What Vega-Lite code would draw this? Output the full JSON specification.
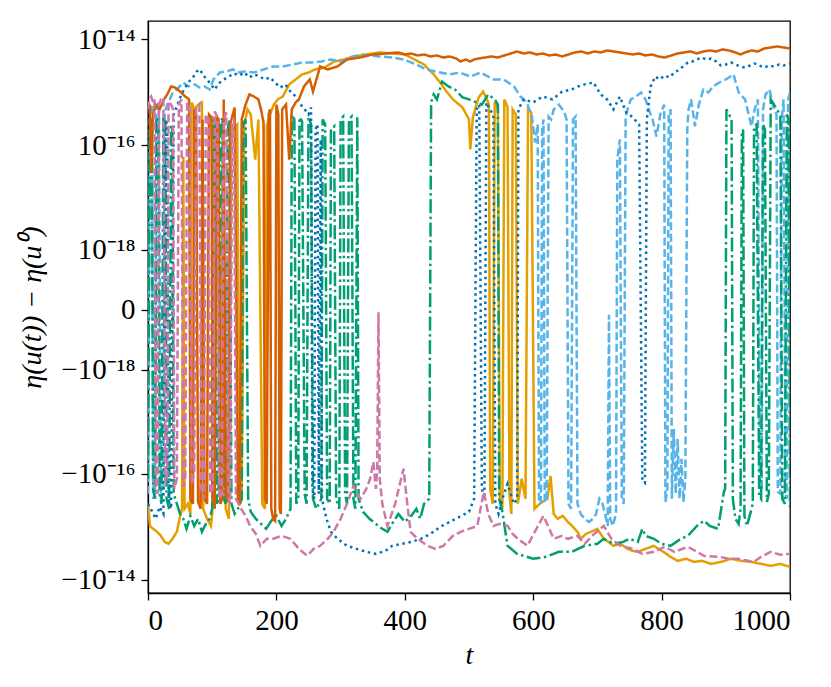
{
  "$schema": "https://vega.github.io/schema/vega-lite/v6.json",
  "width": 642,
  "height": 572,
  "autosize": {"type": "none"},
  "padding": {"left": 148, "top": 21, "right": 41, "bottom": 94},
  "background": "white",
  "datasets": {
    "runs": [
      {"s":"o","t":0,"v":-3.68e-16},{"s":"o","t":3,"v":-9.6e-16},{"s":"o","t":8,"v":-1.09e-15},{"s":"o","t":14,"v":-1.24e-15},{"s":"o","t":20,"v":-1.48e-15},{"s":"o","t":26,"v":-1.92e-15},{"s":"o","t":32,"v":-2.09e-15},{"s":"o","t":38,"v":-1.68e-15},{"s":"o","t":45,"v":-1.24e-15},{"s":"o","t":50,"v":-6.2e-16},{"s":"o","t":53,"v":-4.57e-16},{"s":"o","t":55,"v":6.2e-17},{"s":"o","t":57,"v":-4.57e-16},{"s":"o","t":62,"v":-3.68e-16},{"s":"o","t":66,"v":-5.7e-16},{"s":"o","t":68,"v":6.5e-16},{"s":"o","t":72,"v":4.8e-16},{"s":"o","t":78,"v":5.9e-16},{"s":"o","t":84,"v":6.5e-16},{"s":"o","t":86,"v":-4.57e-16},{"s":"o","t":92,"v":-7.06e-16},{"s":"o","t":98,"v":-9.6e-16},{"s":"o","t":100,"v":-5.7e-16},{"s":"o","t":103,"v":3.1e-16},{"s":"o","t":108,"v":2.5e-16},{"s":"o","t":112,"v":-3.68e-16},{"s":"o","t":117,"v":2.3e-16},{"s":"o","t":121,"v":-4.57e-16},{"s":"o","t":126,"v":-7.06e-16},{"s":"o","t":130,"v":1.6e-16},{"s":"o","t":136,"v":2.3e-16},{"s":"o","t":139,"v":2.5e-16},{"s":"o","t":142,"v":-4.0e-16},{"s":"o","t":146,"v":-2.96e-16},{"s":"o","t":150,"v":2.5e-16},{"s":"o","t":155,"v":4.8e-16},{"s":"o","t":160,"v":3.85e-16},{"s":"o","t":167,"v":5.4e-17},{"s":"o","t":172,"v":3.1e-16},{"s":"o","t":178,"v":-3.68e-16},{"s":"o","t":182,"v":-4.57e-16},{"s":"o","t":185,"v":2.3e-16},{"s":"o","t":190,"v":3.85e-16},{"s":"o","t":196,"v":5.9e-16},{"s":"o","t":202,"v":7.4e-16},{"s":"o","t":210,"v":8.4e-16},{"s":"o","t":220,"v":1.42e-15},{"s":"o","t":230,"v":1.76e-15},{"s":"o","t":240,"v":2.19e-15},{"s":"o","t":250,"v":2.38e-15},{"s":"o","t":260,"v":2.72e-15},{"s":"o","t":275,"v":2.96e-15},{"s":"o","t":290,"v":3.84e-15},{"s":"o","t":305,"v":4.19e-15},{"s":"o","t":320,"v":4.78e-15},{"s":"o","t":340,"v":5.21e-15},{"s":"o","t":360,"v":5.69e-15},{"s":"o","t":380,"v":5.44e-15},{"s":"o","t":400,"v":5.21e-15},{"s":"o","t":415,"v":4.19e-15},{"s":"o","t":430,"v":3.37e-15},{"s":"o","t":445,"v":2.19e-15},{"s":"o","t":455,"v":1.54e-15},{"s":"o","t":465,"v":1.04e-15},{"s":"o","t":475,"v":7.4e-16},{"s":"o","t":490,"v":5.2e-16},{"s":"o","t":500,"v":3.1e-16},{"s":"o","t":502,"v":8.4e-17},{"s":"o","t":506,"v":3.4e-16},{"s":"o","t":515,"v":8.05e-16},{"s":"o","t":522,"v":1.04e-15},{"s":"o","t":528,"v":7.4e-16},{"s":"o","t":531,"v":5.9e-16},{"s":"o","t":533,"v":-1.92e-16},{"s":"o","t":537,"v":-3.68e-16},{"s":"o","t":540,"v":6.5e-16},{"s":"o","t":545,"v":4.8e-16},{"s":"o","t":548,"v":-2.96e-16},{"s":"o","t":552,"v":-4.57e-16},{"s":"o","t":555,"v":7.4e-16},{"s":"o","t":560,"v":5.4e-16},{"s":"o","t":563,"v":-2.38e-16},{"s":"o","t":566,"v":-5.7e-16},{"s":"o","t":568,"v":4.8e-16},{"s":"o","t":573,"v":3.85e-16},{"s":"o","t":576,"v":-3.68e-16},{"s":"o","t":582,"v":-1.24e-16},{"s":"o","t":588,"v":-2.96e-16},{"s":"o","t":592,"v":4.8e-16},{"s":"o","t":597,"v":4.2e-16},{"s":"o","t":602,"v":-4.57e-16},{"s":"o","t":610,"v":-3.68e-16},{"s":"o","t":622,"v":-2.96e-16},{"s":"o","t":627,"v":-1.09e-16},{"s":"o","t":632,"v":-5.7e-16},{"s":"o","t":638,"v":-7.06e-16},{"s":"o","t":646,"v":-6.2e-16},{"s":"o","t":654,"v":-8.05e-16},{"s":"o","t":662,"v":-1.0e-15},{"s":"o","t":669,"v":-1.24e-15},{"s":"o","t":674,"v":-1.68e-15},{"s":"o","t":682,"v":-1.36e-15},{"s":"o","t":690,"v":-1.24e-15},{"s":"o","t":700,"v":-1.09e-15},{"s":"o","t":710,"v":-1.68e-15},{"s":"o","t":717,"v":-1.92e-15},{"s":"o","t":725,"v":-2.28e-15},{"s":"o","t":736,"v":-2.09e-15},{"s":"o","t":747,"v":-2.6e-15},{"s":"o","t":755,"v":-2.84e-15},{"s":"o","t":763,"v":-2.96e-15},{"s":"o","t":775,"v":-2.6e-15},{"s":"o","t":788,"v":-2.28e-15},{"s":"o","t":795,"v":-2.6e-15},{"s":"o","t":803,"v":-2.96e-15},{"s":"o","t":814,"v":-3.68e-15},{"s":"o","t":825,"v":-4.38e-15},{"s":"o","t":838,"v":-4.0e-15},{"s":"o","t":850,"v":-4.57e-15},{"s":"o","t":863,"v":-4.38e-15},{"s":"o","t":877,"v":-5.0e-15},{"s":"o","t":893,"v":-4.57e-15},{"s":"o","t":908,"v":-4.0e-15},{"s":"o","t":924,"v":-4.38e-15},{"s":"o","t":939,"v":-4.57e-15},{"s":"o","t":955,"v":-5.0e-15},{"s":"o","t":970,"v":-5.44e-15},{"s":"o","t":985,"v":-5.0e-15},{"s":"o","t":1000,"v":-5.69e-15},

      {"s":"k","t":0,"v":-2.38e-16},{"s":"k","t":3,"v":4.8e-16},{"s":"k","t":6,"v":5.9e-16},{"s":"k","t":8,"v":-2.96e-16},{"s":"k","t":11,"v":-2.38e-16},{"s":"k","t":13,"v":5.2e-16},{"s":"k","t":17,"v":6.5e-16},{"s":"k","t":20,"v":-2.96e-16},{"s":"k","t":24,"v":-2.19e-16},{"s":"k","t":26,"v":4.2e-16},{"s":"k","t":30,"v":5.9e-16},{"s":"k","t":34,"v":7.4e-16},{"s":"k","t":39,"v":1.04e-15},{"s":"k","t":45,"v":1.14e-15},{"s":"k","t":55,"v":1.54e-15},{"s":"k","t":63,"v":1.3e-15},{"s":"k","t":73,"v":1.42e-15},{"s":"k","t":80,"v":1.24e-15},{"s":"k","t":88,"v":1.3e-15},{"s":"k","t":96,"v":1.14e-15},{"s":"k","t":102,"v":1.76e-15},{"s":"k","t":112,"v":2.38e-15},{"s":"k","t":122,"v":2.49e-15},{"s":"k","t":132,"v":2.72e-15},{"s":"k","t":140,"v":2.38e-15},{"s":"k","t":150,"v":2.49e-15},{"s":"k","t":165,"v":2.38e-15},{"s":"k","t":180,"v":2.72e-15},{"s":"k","t":195,"v":3.09e-15},{"s":"k","t":210,"v":3.09e-15},{"s":"k","t":225,"v":3.37e-15},{"s":"k","t":240,"v":3.68e-15},{"s":"k","t":255,"v":3.68e-15},{"s":"k","t":270,"v":3.84e-15},{"s":"k","t":285,"v":4.19e-15},{"s":"k","t":300,"v":3.84e-15},{"s":"k","t":315,"v":4.57e-15},{"s":"k","t":331,"v":5.21e-15},{"s":"k","t":345,"v":4.99e-15},{"s":"k","t":360,"v":4.78e-15},{"s":"k","t":380,"v":4.57e-15},{"s":"k","t":398,"v":4.19e-15},{"s":"k","t":418,"v":3.37e-15},{"s":"k","t":433,"v":2.72e-15},{"s":"k","t":455,"v":2.38e-15},{"s":"k","t":470,"v":2.19e-15},{"s":"k","t":486,"v":2.38e-15},{"s":"k","t":502,"v":2.0e-15},{"s":"k","t":518,"v":2.38e-15},{"s":"k","t":538,"v":1.76e-15},{"s":"k","t":554,"v":1.76e-15},{"s":"k","t":570,"v":1.3e-15},{"s":"k","t":580,"v":8.4e-16},{"s":"k","t":590,"v":6.5e-16},{"s":"k","t":598,"v":3.5e-16},{"s":"k","t":603,"v":1.14e-16},{"s":"k","t":607,"v":2.5e-16},{"s":"k","t":609,"v":-2.96e-16},{"s":"k","t":612,"v":-3.68e-16},{"s":"k","t":614,"v":2.0e-16},{"s":"k","t":616,"v":3.1e-16},{"s":"k","t":618,"v":-3.4e-16},{"s":"k","t":621,"v":-2.96e-16},{"s":"k","t":624,"v":3.5e-16},{"s":"k","t":628,"v":3.1e-16},{"s":"k","t":632,"v":4.8e-16},{"s":"k","t":640,"v":5.9e-16},{"s":"k","t":648,"v":4.4e-16},{"s":"k","t":652,"v":3.1e-16},{"s":"k","t":655,"v":-3.68e-16},{"s":"k","t":659,"v":-4.57e-16},{"s":"k","t":662,"v":3.1e-16},{"s":"k","t":666,"v":3.5e-16},{"s":"k","t":669,"v":-3.68e-16},{"s":"k","t":674,"v":-5.7e-16},{"s":"k","t":680,"v":-7.06e-16},{"s":"k","t":687,"v":-8.05e-16},{"s":"k","t":693,"v":-7.06e-16},{"s":"k","t":698,"v":-5.7e-16},{"s":"k","t":703,"v":-2.96e-16},{"s":"k","t":708,"v":-3.68e-16},{"s":"k","t":712,"v":-5.7e-16},{"s":"k","t":716,"v":-9.6e-16},{"s":"k","t":718,"v":-2e-20},{"s":"k","t":720,"v":-7.06e-16},{"s":"k","t":724,"v":-9.6e-16},{"s":"k","t":729,"v":-5.7e-16},{"s":"k","t":731,"v":5.4e-17},{"s":"k","t":735,"v":1.3e-16},{"s":"k","t":738,"v":-2.96e-16},{"s":"k","t":741,"v":-3.68e-16},{"s":"k","t":744,"v":3.5e-16},{"s":"k","t":747,"v":4.8e-16},{"s":"k","t":752,"v":7.4e-16},{"s":"k","t":760,"v":8.4e-16},{"s":"k","t":768,"v":1.0e-15},{"s":"k","t":775,"v":7.4e-16},{"s":"k","t":780,"v":4.8e-16},{"s":"k","t":786,"v":3.1e-16},{"s":"k","t":792,"v":1.48e-16},{"s":"k","t":798,"v":3.85e-16},{"s":"k","t":804,"v":5.9e-16},{"s":"k","t":806,"v":-3.4e-16},{"s":"k","t":809,"v":-1.92e-16},{"s":"k","t":811,"v":3.85e-16},{"s":"k","t":814,"v":4.8e-16},{"s":"k","t":816,"v":-2.96e-16},{"s":"k","t":819,"v":-1.42e-17},{"s":"k","t":822,"v":-2.38e-16},{"s":"k","t":825,"v":-2.19e-17},{"s":"k","t":828,"v":-2.96e-16},{"s":"k","t":831,"v":-5.2e-17},{"s":"k","t":834,"v":-3.4e-16},{"s":"k","t":837,"v":-1.24e-16},{"s":"k","t":840,"v":2.0e-16},{"s":"k","t":842,"v":4.8e-16},{"s":"k","t":846,"v":7.4e-16},{"s":"k","t":852,"v":2.3e-16},{"s":"k","t":858,"v":5.9e-16},{"s":"k","t":865,"v":1.14e-15},{"s":"k","t":873,"v":1.0e-15},{"s":"k","t":880,"v":1.3e-15},{"s":"k","t":890,"v":1.54e-15},{"s":"k","t":900,"v":1.76e-15},{"s":"k","t":912,"v":2.19e-15},{"s":"k","t":920,"v":1.0e-15},{"s":"k","t":930,"v":7.4e-16},{"s":"k","t":940,"v":2.3e-16},{"s":"k","t":945,"v":4.8e-16},{"s":"k","t":950,"v":7.4e-16},{"s":"k","t":953,"v":-1.24e-16},{"s":"k","t":956,"v":-1.92e-16},{"s":"k","t":958,"v":4.8e-16},{"s":"k","t":962,"v":9.2e-16},{"s":"k","t":968,"v":1.14e-15},{"s":"k","t":975,"v":4.8e-16},{"s":"k","t":979,"v":3.85e-16},{"s":"k","t":981,"v":-2.19e-16},{"s":"k","t":985,"v":-2.38e-16},{"s":"k","t":987,"v":3.1e-16},{"s":"k","t":990,"v":7.4e-16},{"s":"k","t":993,"v":-2.38e-16},{"s":"k","t":995,"v":-2.96e-16},{"s":"k","t":997,"v":7.4e-16},{"s":"k","t":1000,"v":1.0e-15},

      {"s":"g","t":0,"v":-1.24e-16},{"s":"g","t":3,"v":3.1e-16},{"s":"g","t":6,"v":2.5e-16},{"s":"g","t":8,"v":-1.92e-16},{"s":"g","t":11,"v":-2.96e-16},{"s":"g","t":13,"v":3.4e-16},{"s":"g","t":16,"v":2.85e-16},{"s":"g","t":18,"v":-2.38e-16},{"s":"g","t":21,"v":-3.68e-16},{"s":"g","t":24,"v":3.85e-16},{"s":"g","t":27,"v":3.1e-16},{"s":"g","t":29,"v":-2.96e-16},{"s":"g","t":33,"v":-4.57e-16},{"s":"g","t":36,"v":2.5e-16},{"s":"g","t":38,"v":2.0e-16},{"s":"g","t":40,"v":-2.38e-16},{"s":"g","t":45,"v":-3.68e-16},{"s":"g","t":50,"v":-5.7e-16},{"s":"g","t":55,"v":-7.06e-16},{"s":"g","t":60,"v":-1.09e-15},{"s":"g","t":66,"v":-6.2e-16},{"s":"g","t":72,"v":-9.6e-16},{"s":"g","t":78,"v":-7.06e-16},{"s":"g","t":84,"v":-1.24e-15},{"s":"g","t":90,"v":-8.8e-16},{"s":"g","t":96,"v":-7.06e-16},{"s":"g","t":100,"v":-4.57e-16},{"s":"g","t":102,"v":3.4e-16},{"s":"g","t":105,"v":3.1e-16},{"s":"g","t":107,"v":-3.68e-16},{"s":"g","t":110,"v":-2.96e-16},{"s":"g","t":113,"v":2.5e-16},{"s":"g","t":116,"v":3.4e-16},{"s":"g","t":118,"v":-2.96e-16},{"s":"g","t":121,"v":-3.68e-16},{"s":"g","t":124,"v":2.0e-16},{"s":"g","t":127,"v":3.1e-16},{"s":"g","t":130,"v":-3.68e-16},{"s":"g","t":135,"v":-5.7e-16},{"s":"g","t":140,"v":-4.57e-16},{"s":"g","t":146,"v":-2.96e-16},{"s":"g","t":148,"v":2.5e-16},{"s":"g","t":152,"v":3.1e-16},{"s":"g","t":156,"v":-2.96e-16},{"s":"g","t":160,"v":-5.2e-16},{"s":"g","t":168,"v":-7.06e-16},{"s":"g","t":176,"v":-8.8e-16},{"s":"g","t":184,"v":-1.09e-15},{"s":"g","t":192,"v":-7.7e-16},{"s":"g","t":200,"v":-6.2e-16},{"s":"g","t":208,"v":-9.6e-16},{"s":"g","t":215,"v":-7.06e-16},{"s":"g","t":222,"v":-4.57e-16},{"s":"g","t":224,"v":3.85e-16},{"s":"g","t":228,"v":3.1e-16},{"s":"g","t":231,"v":-3.68e-16},{"s":"g","t":234,"v":-2.96e-16},{"s":"g","t":236,"v":3.4e-16},{"s":"g","t":240,"v":2.85e-16},{"s":"g","t":244,"v":-2.38e-16},{"s":"g","t":247,"v":-3.68e-16},{"s":"g","t":250,"v":3.5e-16},{"s":"g","t":254,"v":2.5e-16},{"s":"g","t":257,"v":-2.96e-16},{"s":"g","t":262,"v":-4.57e-16},{"s":"g","t":266,"v":-3.68e-16},{"s":"g","t":270,"v":-2.96e-16},{"s":"g","t":272,"v":3.1e-16},{"s":"g","t":276,"v":2.5e-16},{"s":"g","t":279,"v":-2.96e-16},{"s":"g","t":283,"v":-3.68e-16},{"s":"g","t":285,"v":2.0e-16},{"s":"g","t":290,"v":2.3e-16},{"s":"g","t":293,"v":-2.96e-16},{"s":"g","t":298,"v":-4.57e-16},{"s":"g","t":300,"v":3.1e-16},{"s":"g","t":304,"v":3.5e-16},{"s":"g","t":307,"v":-2.38e-16},{"s":"g","t":310,"v":-3.68e-16},{"s":"g","t":313,"v":3.1e-16},{"s":"g","t":317,"v":3.5e-16},{"s":"g","t":320,"v":-2.96e-16},{"s":"g","t":323,"v":-4.57e-16},{"s":"g","t":326,"v":3.4e-16},{"s":"g","t":328,"v":-2.96e-16},{"s":"g","t":335,"v":-5.2e-16},{"s":"g","t":345,"v":-7.06e-16},{"s":"g","t":355,"v":-8.8e-16},{"s":"g","t":365,"v":-1.09e-15},{"s":"g","t":373,"v":-1.24e-15},{"s":"g","t":380,"v":-8.8e-16},{"s":"g","t":390,"v":-5.7e-16},{"s":"g","t":400,"v":-8.05e-16},{"s":"g","t":410,"v":-6.2e-16},{"s":"g","t":418,"v":-4.57e-16},{"s":"g","t":424,"v":-7.06e-16},{"s":"g","t":430,"v":-3.68e-16},{"s":"g","t":438,"v":-2.96e-16},{"s":"g","t":441,"v":6.5e-16},{"s":"g","t":445,"v":9.2e-16},{"s":"g","t":450,"v":7.4e-16},{"s":"g","t":458,"v":1.61e-15},{"s":"g","t":468,"v":1.3e-15},{"s":"g","t":478,"v":1.14e-15},{"s":"g","t":490,"v":8.05e-16},{"s":"g","t":500,"v":7.4e-16},{"s":"g","t":512,"v":6.5e-16},{"s":"g","t":520,"v":5.9e-16},{"s":"g","t":530,"v":9.2e-16},{"s":"g","t":540,"v":7.4e-16},{"s":"g","t":545,"v":5.9e-16},{"s":"g","t":547,"v":-2.96e-16},{"s":"g","t":552,"v":-5.2e-16},{"s":"g","t":560,"v":-2.28e-15},{"s":"g","t":575,"v":-3.23e-15},{"s":"g","t":600,"v":-4.0e-15},{"s":"g","t":620,"v":-3.68e-15},{"s":"g","t":640,"v":-2.96e-15},{"s":"g","t":660,"v":-2.96e-15},{"s":"g","t":680,"v":-2.28e-15},{"s":"g","t":700,"v":-2.09e-15},{"s":"g","t":710,"v":-1.68e-15},{"s":"g","t":725,"v":-2.09e-15},{"s":"g","t":740,"v":-1.92e-15},{"s":"g","t":750,"v":-1.68e-15},{"s":"g","t":763,"v":-1.92e-15},{"s":"g","t":770,"v":-1.09e-15},{"s":"g","t":775,"v":-1.48e-15},{"s":"g","t":788,"v":-1.68e-15},{"s":"g","t":800,"v":-2.09e-15},{"s":"g","t":814,"v":-2.28e-15},{"s":"g","t":830,"v":-1.68e-15},{"s":"g","t":841,"v":-1.48e-15},{"s":"g","t":855,"v":-9.6e-16},{"s":"g","t":866,"v":-7.7e-16},{"s":"g","t":875,"v":-9.6e-16},{"s":"g","t":888,"v":-1.09e-15},{"s":"g","t":897,"v":-2.19e-16},{"s":"g","t":899,"v":-1.92e-16},{"s":"g","t":901,"v":4.8e-16},{"s":"g","t":905,"v":3.85e-16},{"s":"g","t":909,"v":3.1e-16},{"s":"g","t":911,"v":-2.96e-16},{"s":"g","t":915,"v":-7.06e-16},{"s":"g","t":920,"v":-8.8e-16},{"s":"g","t":923,"v":-4.57e-16},{"s":"g","t":925,"v":1.76e-16},{"s":"g","t":927,"v":2.0e-16},{"s":"g","t":929,"v":-6.2e-16},{"s":"g","t":933,"v":-9.6e-16},{"s":"g","t":938,"v":-5.7e-16},{"s":"g","t":942,"v":-3.68e-16},{"s":"g","t":944,"v":2.3e-16},{"s":"g","t":948,"v":2.5e-16},{"s":"g","t":952,"v":-2.6e-16},{"s":"g","t":955,"v":-2.96e-16},{"s":"g","t":958,"v":2.5e-16},{"s":"g","t":961,"v":2.0e-16},{"s":"g","t":964,"v":-3.4e-16},{"s":"g","t":967,"v":-2.38e-16},{"s":"g","t":970,"v":7.4e-16},{"s":"g","t":975,"v":5.9e-16},{"s":"g","t":980,"v":4.8e-16},{"s":"g","t":985,"v":3.5e-16},{"s":"g","t":988,"v":-2.96e-16},{"s":"g","t":992,"v":-3.68e-16},{"s":"g","t":995,"v":3.85e-16},{"s":"g","t":998,"v":3.1e-16},{"s":"g","t":1000,"v":-4.57e-16},

      {"s":"b","t":0,"v":-3.68e-16},{"s":"b","t":6,"v":-5.0e-16},{"s":"b","t":12,"v":-7.06e-16},{"s":"b","t":18,"v":-4.2e-16},{"s":"b","t":24,"v":-5.7e-16},{"s":"b","t":27,"v":3.1e-16},{"s":"b","t":30,"v":2.5e-16},{"s":"b","t":32,"v":-2.96e-16},{"s":"b","t":36,"v":-4.57e-16},{"s":"b","t":40,"v":3.85e-16},{"s":"b","t":46,"v":5.9e-16},{"s":"b","t":52,"v":9.2e-16},{"s":"b","t":58,"v":1.24e-15},{"s":"b","t":64,"v":1.61e-15},{"s":"b","t":70,"v":1.92e-15},{"s":"b","t":76,"v":2.49e-15},{"s":"b","t":81,"v":2.72e-15},{"s":"b","t":86,"v":2.09e-15},{"s":"b","t":92,"v":1.76e-15},{"s":"b","t":98,"v":1.42e-15},{"s":"b","t":104,"v":1.14e-15},{"s":"b","t":110,"v":1.48e-15},{"s":"b","t":118,"v":1.76e-15},{"s":"b","t":126,"v":2.0e-15},{"s":"b","t":134,"v":2.3e-15},{"s":"b","t":142,"v":2.09e-15},{"s":"b","t":150,"v":2.38e-15},{"s":"b","t":158,"v":1.92e-15},{"s":"b","t":166,"v":2.19e-15},{"s":"b","t":174,"v":2.0e-15},{"s":"b","t":182,"v":1.76e-15},{"s":"b","t":190,"v":1.92e-15},{"s":"b","t":198,"v":1.54e-15},{"s":"b","t":206,"v":1.24e-15},{"s":"b","t":214,"v":1.42e-15},{"s":"b","t":222,"v":1.04e-15},{"s":"b","t":230,"v":8.4e-16},{"s":"b","t":238,"v":5.9e-16},{"s":"b","t":244,"v":4.8e-16},{"s":"b","t":250,"v":3.85e-16},{"s":"b","t":254,"v":5.2e-16},{"s":"b","t":256,"v":-1.92e-16},{"s":"b","t":259,"v":-2.96e-16},{"s":"b","t":261,"v":2.0e-16},{"s":"b","t":264,"v":2.5e-16},{"s":"b","t":266,"v":-2.38e-16},{"s":"b","t":269,"v":1.3e-16},{"s":"b","t":271,"v":-2.96e-16},{"s":"b","t":278,"v":-7.06e-16},{"s":"b","t":285,"v":-1.24e-15},{"s":"b","t":295,"v":-1.68e-15},{"s":"b","t":310,"v":-2.28e-15},{"s":"b","t":325,"v":-2.6e-15},{"s":"b","t":340,"v":-2.96e-15},{"s":"b","t":355,"v":-3.23e-15},{"s":"b","t":370,"v":-2.84e-15},{"s":"b","t":380,"v":-2.28e-15},{"s":"b","t":395,"v":-2.09e-15},{"s":"b","t":410,"v":-1.92e-15},{"s":"b","t":425,"v":-1.68e-15},{"s":"b","t":440,"v":-1.36e-15},{"s":"b","t":455,"v":-1.0e-15},{"s":"b","t":470,"v":-8.05e-16},{"s":"b","t":485,"v":-6.5e-16},{"s":"b","t":500,"v":-5.2e-16},{"s":"b","t":508,"v":-2.96e-16},{"s":"b","t":512,"v":4.8e-16},{"s":"b","t":516,"v":5.9e-16},{"s":"b","t":520,"v":-1.92e-16},{"s":"b","t":524,"v":-2.96e-16},{"s":"b","t":527,"v":6.5e-16},{"s":"b","t":532,"v":4.8e-16},{"s":"b","t":538,"v":3.85e-16},{"s":"b","t":541,"v":-3.68e-16},{"s":"b","t":546,"v":-5.7e-16},{"s":"b","t":552,"v":-2.96e-16},{"s":"b","t":560,"v":-1.55e-16},{"s":"b","t":570,"v":-3.68e-16},{"s":"b","t":575,"v":-2.96e-16},{"s":"b","t":577,"v":4.8e-16},{"s":"b","t":585,"v":7.4e-16},{"s":"b","t":600,"v":6.5e-16},{"s":"b","t":615,"v":8.4e-16},{"s":"b","t":630,"v":7.4e-16},{"s":"b","t":645,"v":1.04e-15},{"s":"b","t":660,"v":1.14e-15},{"s":"b","t":670,"v":1.3e-15},{"s":"b","t":680,"v":1.42e-15},{"s":"b","t":694,"v":1.54e-15},{"s":"b","t":705,"v":9.2e-16},{"s":"b","t":715,"v":7.4e-16},{"s":"b","t":725,"v":4.8e-16},{"s":"b","t":735,"v":8.4e-16},{"s":"b","t":745,"v":4.2e-16},{"s":"b","t":755,"v":3.4e-16},{"s":"b","t":765,"v":2.5e-16},{"s":"b","t":770,"v":-1.36e-16},{"s":"b","t":774,"v":-1.48e-16},{"s":"b","t":777,"v":3.1e-16},{"s":"b","t":783,"v":1.3e-15},{"s":"b","t":790,"v":2.0e-15},{"s":"b","t":797,"v":1.76e-15},{"s":"b","t":805,"v":2.09e-15},{"s":"b","t":812,"v":1.92e-15},{"s":"b","t":820,"v":2.38e-15},{"s":"b","t":828,"v":2.72e-15},{"s":"b","t":835,"v":3.23e-15},{"s":"b","t":841,"v":3.68e-15},{"s":"b","t":848,"v":3.84e-15},{"s":"b","t":855,"v":4.19e-15},{"s":"b","t":862,"v":4.57e-15},{"s":"b","t":870,"v":4.19e-15},{"s":"b","t":877,"v":4.38e-15},{"s":"b","t":885,"v":3.84e-15},{"s":"b","t":892,"v":3.23e-15},{"s":"b","t":900,"v":3.37e-15},{"s":"b","t":908,"v":3.68e-15},{"s":"b","t":915,"v":3.37e-15},{"s":"b","t":922,"v":3.09e-15},{"s":"b","t":930,"v":2.96e-15},{"s":"b","t":938,"v":3.23e-15},{"s":"b","t":945,"v":3.52e-15},{"s":"b","t":952,"v":3.23e-15},{"s":"b","t":960,"v":2.96e-15},{"s":"b","t":968,"v":3.23e-15},{"s":"b","t":975,"v":3.09e-15},{"s":"b","t":983,"v":3.37e-15},{"s":"b","t":990,"v":3.23e-15},{"s":"b","t":1000,"v":3.52e-15},

      {"s":"r","t":0,"v":4.8e-16},{"s":"r","t":3,"v":5.9e-16},{"s":"r","t":5,"v":3.1e-17},{"s":"r","t":8,"v":3.85e-16},{"s":"r","t":12,"v":5.9e-16},{"s":"r","t":18,"v":4.8e-16},{"s":"r","t":25,"v":7.4e-16},{"s":"r","t":30,"v":9.2e-16},{"s":"r","t":36,"v":1.3e-15},{"s":"r","t":42,"v":1.24e-15},{"s":"r","t":50,"v":1.04e-15},{"s":"r","t":58,"v":8.4e-16},{"s":"r","t":64,"v":7.4e-16},{"s":"r","t":66,"v":-2.96e-16},{"s":"r","t":70,"v":-3.68e-16},{"s":"r","t":72,"v":4.8e-16},{"s":"r","t":75,"v":3.85e-16},{"s":"r","t":78,"v":-3.4e-16},{"s":"r","t":82,"v":-4.57e-16},{"s":"r","t":85,"v":3.1e-16},{"s":"r","t":88,"v":-2.96e-16},{"s":"r","t":92,"v":-3.68e-16},{"s":"r","t":95,"v":3.85e-16},{"s":"r","t":99,"v":3.4e-16},{"s":"r","t":101,"v":-2.96e-16},{"s":"r","t":104,"v":-4.57e-16},{"s":"r","t":107,"v":3.5e-16},{"s":"r","t":110,"v":3.1e-16},{"s":"r","t":113,"v":-3.68e-16},{"s":"r","t":116,"v":-2.7e-16},{"s":"r","t":118,"v":7.4e-16},{"s":"r","t":121,"v":-2.6e-16},{"s":"r","t":125,"v":-3.4e-16},{"s":"r","t":128,"v":2.5e-16},{"s":"r","t":132,"v":3.85e-16},{"s":"r","t":135,"v":5.2e-16},{"s":"r","t":140,"v":-2.96e-16},{"s":"r","t":143,"v":-3.68e-16},{"s":"r","t":146,"v":3.1e-16},{"s":"r","t":152,"v":5.9e-16},{"s":"r","t":158,"v":9.2e-16},{"s":"r","t":165,"v":8.4e-16},{"s":"r","t":172,"v":7.4e-16},{"s":"r","t":176,"v":4.8e-16},{"s":"r","t":180,"v":2.7e-16},{"s":"r","t":182,"v":-2.96e-16},{"s":"r","t":185,"v":-3.68e-16},{"s":"r","t":188,"v":3.85e-16},{"s":"r","t":190,"v":4.8e-16},{"s":"r","t":192,"v":-4.57e-16},{"s":"r","t":195,"v":-7.06e-16},{"s":"r","t":198,"v":-7.7e-16},{"s":"r","t":200,"v":5.9e-16},{"s":"r","t":203,"v":3.85e-16},{"s":"r","t":205,"v":-4.57e-16},{"s":"r","t":207,"v":-5.7e-16},{"s":"r","t":209,"v":4.8e-16},{"s":"r","t":215,"v":5.9e-16},{"s":"r","t":220,"v":5.4e-17},{"s":"r","t":224,"v":4.8e-16},{"s":"r","t":230,"v":6.5e-16},{"s":"r","t":235,"v":7.4e-16},{"s":"r","t":243,"v":1.3e-15},{"s":"r","t":252,"v":1.76e-15},{"s":"r","t":257,"v":1.04e-15},{"s":"r","t":268,"v":3.09e-15},{"s":"r","t":280,"v":2.72e-15},{"s":"r","t":295,"v":3.09e-15},{"s":"r","t":310,"v":4.19e-15},{"s":"r","t":330,"v":4.57e-15},{"s":"r","t":350,"v":5.21e-15},{"s":"r","t":370,"v":5.44e-15},{"s":"r","t":390,"v":5.69e-15},{"s":"r","t":400,"v":5.21e-15},{"s":"r","t":410,"v":5.44e-15},{"s":"r","t":420,"v":4.99e-15},{"s":"r","t":430,"v":5.21e-15},{"s":"r","t":440,"v":4.78e-15},{"s":"r","t":450,"v":4.99e-15},{"s":"r","t":460,"v":4.57e-15},{"s":"r","t":470,"v":4.78e-15},{"s":"r","t":480,"v":4.38e-15},{"s":"r","t":487,"v":3.84e-15},{"s":"r","t":495,"v":4.19e-15},{"s":"r","t":502,"v":3.84e-15},{"s":"r","t":508,"v":4.19e-15},{"s":"r","t":515,"v":4.38e-15},{"s":"r","t":525,"v":4.57e-15},{"s":"r","t":535,"v":4.78e-15},{"s":"r","t":545,"v":4.57e-15},{"s":"r","t":555,"v":4.99e-15},{"s":"r","t":565,"v":5.44e-15},{"s":"r","t":575,"v":5.94e-15},{"s":"r","t":585,"v":5.44e-15},{"s":"r","t":595,"v":5.69e-15},{"s":"r","t":605,"v":5.21e-15},{"s":"r","t":615,"v":5.44e-15},{"s":"r","t":625,"v":4.99e-15},{"s":"r","t":635,"v":5.21e-15},{"s":"r","t":645,"v":4.78e-15},{"s":"r","t":655,"v":5.21e-15},{"s":"r","t":665,"v":5.69e-15},{"s":"r","t":675,"v":5.94e-15},{"s":"r","t":685,"v":5.44e-15},{"s":"r","t":695,"v":5.94e-15},{"s":"r","t":705,"v":5.69e-15},{"s":"r","t":715,"v":6.2e-15},{"s":"r","t":725,"v":5.94e-15},{"s":"r","t":735,"v":5.69e-15},{"s":"r","t":745,"v":5.44e-15},{"s":"r","t":755,"v":5.21e-15},{"s":"r","t":765,"v":5.44e-15},{"s":"r","t":775,"v":4.99e-15},{"s":"r","t":785,"v":5.21e-15},{"s":"r","t":795,"v":4.78e-15},{"s":"r","t":805,"v":4.57e-15},{"s":"r","t":815,"v":4.99e-15},{"s":"r","t":825,"v":5.44e-15},{"s":"r","t":835,"v":5.69e-15},{"s":"r","t":845,"v":5.94e-15},{"s":"r","t":855,"v":5.44e-15},{"s":"r","t":865,"v":5.94e-15},{"s":"r","t":875,"v":6.2e-15},{"s":"r","t":885,"v":5.94e-15},{"s":"r","t":895,"v":6.48e-15},{"s":"r","t":905,"v":6.2e-15},{"s":"r","t":915,"v":5.69e-15},{"s":"r","t":923,"v":5.21e-15},{"s":"r","t":930,"v":5.69e-15},{"s":"r","t":940,"v":6.2e-15},{"s":"r","t":950,"v":5.94e-15},{"s":"r","t":960,"v":6.76e-15},{"s":"r","t":970,"v":7.06e-15},{"s":"r","t":980,"v":7.38e-15},{"s":"r","t":990,"v":7.06e-15},{"s":"r","t":1000,"v":6.76e-15},

      {"s":"p","t":0,"v":4.8e-16},{"s":"p","t":2,"v":7.4e-16},{"s":"p","t":5,"v":8.4e-16},{"s":"p","t":8,"v":6.5e-16},{"s":"p","t":10,"v":7.4e-16},{"s":"p","t":12,"v":-1.76e-16},{"s":"p","t":15,"v":-2.38e-16},{"s":"p","t":17,"v":5.9e-16},{"s":"p","t":20,"v":7.4e-16},{"s":"p","t":24,"v":8.05e-16},{"s":"p","t":27,"v":-1.55e-16},{"s":"p","t":30,"v":-1.14e-16},{"s":"p","t":32,"v":6.8e-16},{"s":"p","t":36,"v":5.9e-16},{"s":"p","t":39,"v":4.8e-16},{"s":"p","t":41,"v":-1.92e-16},{"s":"p","t":45,"v":-1.24e-16},{"s":"p","t":48,"v":5.9e-16},{"s":"p","t":52,"v":7.4e-16},{"s":"p","t":55,"v":-1.76e-16},{"s":"p","t":58,"v":-1.36e-16},{"s":"p","t":61,"v":6.5e-16},{"s":"p","t":65,"v":5.2e-16},{"s":"p","t":68,"v":-1.55e-16},{"s":"p","t":72,"v":-1.0e-16},{"s":"p","t":75,"v":4.8e-16},{"s":"p","t":80,"v":5.9e-16},{"s":"p","t":83,"v":-1.92e-16},{"s":"p","t":87,"v":-2.96e-16},{"s":"p","t":90,"v":3.85e-16},{"s":"p","t":94,"v":3.1e-16},{"s":"p","t":97,"v":-2.38e-16},{"s":"p","t":101,"v":-1.92e-16},{"s":"p","t":104,"v":4.4e-16},{"s":"p","t":108,"v":3.4e-16},{"s":"p","t":111,"v":-2.96e-16},{"s":"p","t":115,"v":-2.38e-16},{"s":"p","t":118,"v":3.1e-16},{"s":"p","t":122,"v":4.2e-16},{"s":"p","t":125,"v":-2.7e-16},{"s":"p","t":128,"v":-3.68e-16},{"s":"p","t":131,"v":2.5e-16},{"s":"p","t":134,"v":3.1e-16},{"s":"p","t":137,"v":-2.96e-16},{"s":"p","t":145,"v":-4.57e-16},{"s":"p","t":152,"v":-6.2e-16},{"s":"p","t":159,"v":-9.6e-16},{"s":"p","t":168,"v":-1.36e-15},{"s":"p","t":175,"v":-2.28e-15},{"s":"p","t":185,"v":-1.68e-15},{"s":"p","t":195,"v":-1.68e-15},{"s":"p","t":208,"v":-1.48e-15},{"s":"p","t":222,"v":-1.68e-15},{"s":"p","t":235,"v":-2.6e-15},{"s":"p","t":248,"v":-3.52e-15},{"s":"p","t":258,"v":-2.6e-15},{"s":"p","t":268,"v":-2.28e-15},{"s":"p","t":280,"v":-1.68e-15},{"s":"p","t":289,"v":-1.24e-15},{"s":"p","t":300,"v":-7.06e-16},{"s":"p","t":310,"v":-3.68e-16},{"s":"p","t":320,"v":-1.68e-16},{"s":"p","t":331,"v":-2.96e-16},{"s":"p","t":340,"v":-1.92e-16},{"s":"p","t":346,"v":-1.24e-16},{"s":"p","t":351,"v":-5.94e-17},{"s":"p","t":355,"v":-1.92e-16},{"s":"p","t":357,"v":-8.0e-17},{"s":"p","t":359,"v":-1e-20},{"s":"p","t":361,"v":-1.24e-16},{"s":"p","t":365,"v":-3.68e-16},{"s":"p","t":373,"v":-9.6e-16},{"s":"p","t":385,"v":-3.68e-16},{"s":"p","t":398,"v":-8.0e-17},{"s":"p","t":403,"v":-2.96e-16},{"s":"p","t":409,"v":-1.24e-15},{"s":"p","t":420,"v":-1.68e-15},{"s":"p","t":435,"v":-2.28e-15},{"s":"p","t":448,"v":-2.6e-15},{"s":"p","t":460,"v":-2.28e-15},{"s":"p","t":475,"v":-1.48e-15},{"s":"p","t":487,"v":-1.24e-15},{"s":"p","t":500,"v":-1.09e-15},{"s":"p","t":513,"v":-9.6e-16},{"s":"p","t":518,"v":-4.57e-16},{"s":"p","t":523,"v":-2.19e-16},{"s":"p","t":530,"v":-5.7e-16},{"s":"p","t":538,"v":-9.6e-16},{"s":"p","t":548,"v":-8.8e-16},{"s":"p","t":560,"v":-9.6e-16},{"s":"p","t":568,"v":-1.36e-15},{"s":"p","t":576,"v":-1.68e-15},{"s":"p","t":591,"v":-2.28e-15},{"s":"p","t":605,"v":-1.09e-15},{"s":"p","t":616,"v":-6.2e-16},{"s":"p","t":625,"v":-1.09e-15},{"s":"p","t":632,"v":-1.68e-15},{"s":"p","t":645,"v":-1.48e-15},{"s":"p","t":654,"v":-1.68e-15},{"s":"p","t":669,"v":-1.48e-15},{"s":"p","t":680,"v":-2.09e-15},{"s":"p","t":695,"v":-1.36e-15},{"s":"p","t":710,"v":-9.6e-16},{"s":"p","t":722,"v":-1.68e-15},{"s":"p","t":736,"v":-2.28e-15},{"s":"p","t":755,"v":-2.6e-15},{"s":"p","t":770,"v":-3.23e-15},{"s":"p","t":788,"v":-2.96e-15},{"s":"p","t":805,"v":-2.38e-15},{"s":"p","t":820,"v":-2.96e-15},{"s":"p","t":841,"v":-2.38e-15},{"s":"p","t":855,"v":-2.96e-15},{"s":"p","t":866,"v":-3.52e-15},{"s":"p","t":890,"v":-3.68e-15},{"s":"p","t":905,"v":-4.0e-15},{"s":"p","t":919,"v":-4.0e-15},{"s":"p","t":935,"v":-4.38e-15},{"s":"p","t":944,"v":-4.57e-15},{"s":"p","t":955,"v":-3.68e-15},{"s":"p","t":970,"v":-2.96e-15},{"s":"p","t":985,"v":-3.37e-15},{"s":"p","t":1000,"v":-3.23e-15}
    ]
  },
  "data": {"name": "runs"},
  "mark": {"type": "line", "strokeWidth": 2.5, "strokeCap": "butt", "clip": true},
  "encoding": {
    "x": {
      "field": "t",
      "type": "quantitative",
      "scale": {"domain": [0, 1000], "nice": false, "zero": false},
      "axis": {"values": [0, 200, 400, 600, 800, 1000], "format": "d", "title": "t", "titlePadding": 6}
    },
    "y": {
      "field": "v",
      "type": "quantitative",
      "scale": {"type": "symlog", "constant": 8e-20, "domain": [-1.77e-14, 2.23e-14], "nice": false, "zero": false},
      "axis": {
        "values": [-1e-14, -1e-16, -1e-18, 0, 1e-18, 1e-16, 1e-14],
        "labelExpr": "datum.value > 5e-15 ? '10⁻¹⁴' : datum.value > 5e-17 ? '10⁻¹⁶' : datum.value > 5e-19 ? '10⁻¹⁸' : datum.value > -5e-19 ? '0' : datum.value > -5e-17 ? '−10⁻¹⁸' : datum.value > -5e-15 ? '−10⁻¹⁶' : '−10⁻¹⁴'",
        "title": "η(u(t)) − η(u⁰)",
        "titlePadding": 14
      }
    },
    "color": {
      "field": "s",
      "type": "nominal",
      "legend": null,
      "scale": {
        "domain": ["o", "k", "g", "b", "r", "p"],
        "range": ["#E69F00", "#56B4E9", "#009E73", "#0072B2", "#D55E00", "#CC79A7"]
      }
    },
    "strokeDash": {
      "field": "s",
      "type": "nominal",
      "legend": null,
      "scale": {
        "domain": ["o", "k", "g", "b", "r", "p"],
        "range": [[1, 0], [8, 3.5], [14, 3.5, 2.5, 3.5], [2.5, 3.7], [1, 0], [8, 3.5]]
      }
    }
  },
  "config": {
    "font": "Liberation Serif",
    "view": {"stroke": "black", "strokeWidth": 1.3},
    "axis": {
      "grid": false,
      "domainColor": "black",
      "domainWidth": 1.3,
      "tickColor": "black",
      "tickWidth": 1.3,
      "tickSize": 7,
      "labelColor": "black",
      "labelFontSize": 29,
      "labelPadding": 6,
      "labelFont": "Liberation Serif",
      "titleFont": "Liberation Serif",
      "titleFontSize": 28,
      "titleFontWeight": "normal",
      "titleFontStyle": "italic",
      "titleColor": "black"
    }
  }
}
